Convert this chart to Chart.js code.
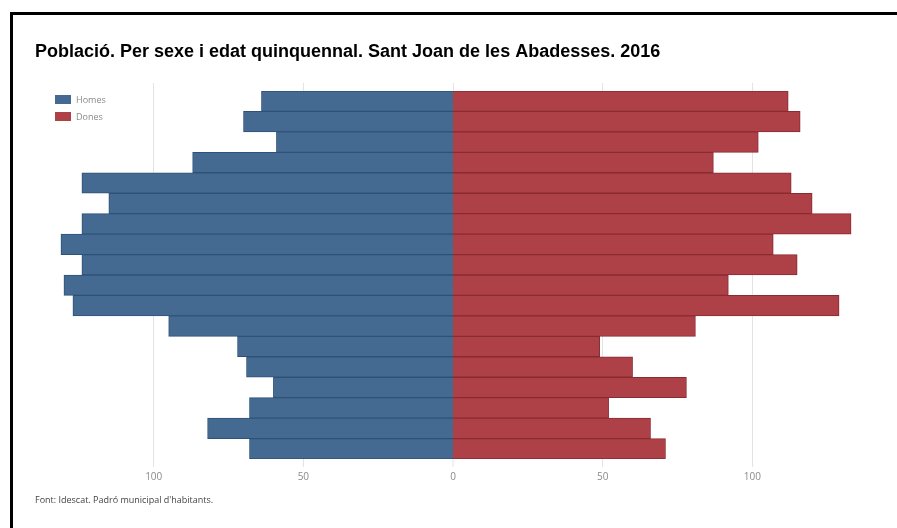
<!DOCTYPE html>
<html>
<head>
<meta charset="utf-8">
<script src="https://cdn.jsdelivr.net/npm/chart.js@4.4.1/dist/chart.umd.min.js"></script>
<style>
    body { margin: 0; background: #fff; }
    #wrap { position: relative; width: 897px; height: 528px; overflow: hidden; }
    #frame {
        position: absolute; left: 10px; top: 12px; width: 900px; height: 530px;
        border-top: 3px solid #000; border-left: 3px solid #000;
    }
    canvas { position: absolute; left: 0; top: 0; }
</style>
</head>
<body>
<div id="wrap">
    <div id="frame"></div>
    <canvas id="pyramid" width="897" height="528"></canvas>
</div>
<script>
// Age groups, oldest at the top
const ageGroups = ['85 i més', '80 a 84', '75 a 79', '70 a 74', '65 a 69', '60 a 64', '55 a 59', '50 a 54',
    '45 a 49', '40 a 44', '35 a 39', '30 a 34', '25 a 29', '20 a 24', '15 a 19', '10 a 14', '5 a 9', '0 a 4'];
const homes = [64, 70, 59, 87, 124, 115, 124, 131, 124, 130, 127, 95, 72, 69, 60, 68, 82, 68];
const dones = [112, 116, 102, 87, 113, 120, 133, 107, 115, 92, 129, 81, 49, 60, 78, 52, 66, 71];
const axisTicks = [-100, -50, 0, 50, 100];

const titleText = 'Població. Per sexe i edat quinquennal. Sant Joan de les Abadesses. 2016';
const sourceText = "Font: Idescat. Padró municipal d'habitants.";

const blue = '#456a92';
const red = '#ae4047';
const gridColor = '#e3e3e3';

// Title, legend and source note drawn on the canvas
const decorations = {
    id: 'decorations',
    afterDraw(chart) {
        const ctx = chart.ctx;
        ctx.save();
        ctx.textBaseline = 'alphabetic';
        ctx.fillStyle = '#000';
        ctx.font = 'bold 18px "Liberation Sans", sans-serif';
        ctx.fillText(titleText, 35, 57);

        // legend
        const items = [['Homes', blue], ['Dones', red]];
        ctx.font = '9px "Open Sans", sans-serif';
        ctx.textBaseline = 'middle';
        items.forEach(function(item, i) {
            const y = 95 + i * 17;
            ctx.fillStyle = item[1];
            ctx.fillRect(55, y, 16, 9);
            ctx.fillStyle = '#8a8a8a';
            ctx.fillText(item[0], 76, y + 5);
        });

        ctx.fillStyle = '#444';
        ctx.font = '9px "Open Sans", sans-serif';
        ctx.fillText(sourceText, 35, 500);
        ctx.restore();
    }
};

// zero line has no width, otherwise Chart.js leaves a gap for it between the bars
function gridWidthAt(c) {
    return c.tick && c.tick.value === 0 ? 0 : 1;
}

const ctx = document.getElementById('pyramid').getContext('2d');
const pyramidChart = new Chart(ctx, {
    type: 'bar',
    data: {
        labels: ageGroups,
        datasets: [{
            label: 'Homes',
            data: homes.map(v => -v),
            backgroundColor: blue,
            borderColor: '#2e5277',
            borderWidth: 1,
            barPercentage: 1,
            categoryPercentage: 1
        }, {
            label: 'Dones',
            data: dones,
            backgroundColor: red,
            borderColor: '#8a2a31',
            borderWidth: 1,
            barPercentage: 1,
            categoryPercentage: 1
        }]
    },
    options: {
        indexAxis: 'y',
        responsive: false,
        animation: false,
        layout: {
            padding: { left: 34, right: 25, top: 83, bottom: 41 }
        },
        plugins: {
            legend: { display: false },
            title: { display: false },
            tooltip: { enabled: false }
        },
        scales: {
            x: {
                stacked: true,
                min: -140,
                max: 140,
                afterBuildTicks: function(axis) {
                    axis.ticks = axisTicks.map(v => ({ value: v }));
                },
                border: { display: false },
                grid: {
                    color: gridColor,
                    lineWidth: gridWidthAt,
                    tickColor: gridColor,
                    tickWidth: 1,
                    tickLength: 8
                },
                ticks: {
                    padding: 4,
                    color: '#8a8a8a',
                    font: { family: '"Open Sans", sans-serif', size: 10 },
                    callback: function(value) {
                        return Math.abs(value);
                    }
                }
            },
            xTop: {
                position: 'top',
                min: -140,
                max: 140,
                afterBuildTicks: function(axis) {
                    axis.ticks = axisTicks.map(v => ({ value: v }));
                },
                border: { display: false },
                grid: {
                    drawOnChartArea: false,
                    tickColor: gridColor,
                    tickLength: 8
                },
                ticks: { display: false }
            },
            y: {
                stacked: true,
                display: false
            }
        }
    },
    plugins: [decorations]
});
</script>
</body>
</html>
